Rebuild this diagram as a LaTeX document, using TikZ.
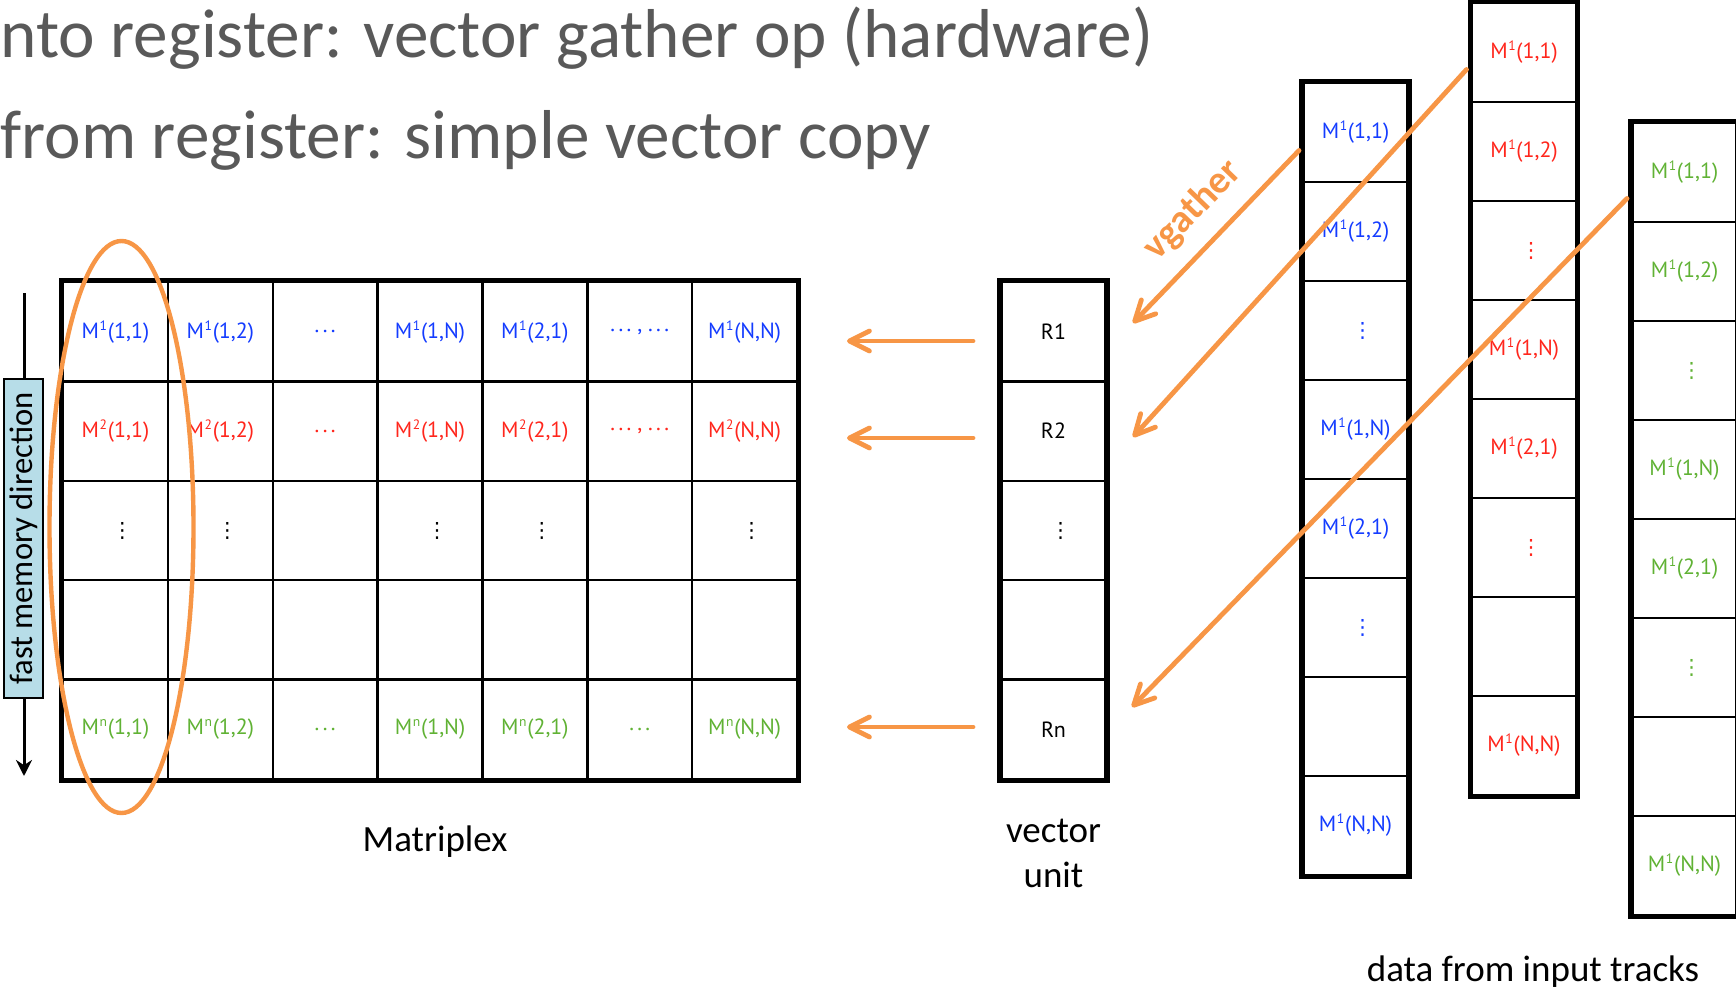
\documentclass[tikz,border=0pt]{standalone}
\usepackage{fontspec}
\setmainfont{Carlito}
\newfontfamily\cellfont{PT Sans}
\newfontfamily\symfont{DejaVu Sans}
\usetikzlibrary{arrows.meta,calc}

\definecolor{accent}{HTML}{F79646}
\definecolor{rowblue}{RGB}{20,60,255}
\definecolor{rowred}{RGB}{255,38,28}
\definecolor{rowgreen}{RGB}{96,178,52}
\definecolor{headgray}{HTML}{595959}
\definecolor{tagblue}{HTML}{B7DDE8}

% element M^k(i,j) of a matrix, with a small raised index
\newcommand{\Mx}[2]{M\kern0.3pt\raisebox{0.72ex}{\fontsize{6.8}{6.8}\selectfont #1}\kern0.4pt(#2)}
% vertical and horizontal ellipses
\newcommand{\vd}{\hspace*{7pt}{\symfont\fontsize{10.5}{10.5}\selectfont ⋮}}
\newcommand{\hd}{.\kern1.7pt.\kern1.7pt.}

\tikzset{
  cell/.style={draw, line width=1.2pt, minimum width=52.43pt, minimum height=49.7pt,
    inner sep=0pt, font=\cellfont\fontsize{11}{13}\selectfont},
  slot/.style={cell, minimum width=52.3pt, minimum height=49.5pt},
  frame/.style={line width=2.6pt},
  flow/.style={accent, line width=2.4pt, line cap=round,
    -{Straight Barb[length=10pt,width=10pt,round]}},
  label/.style={inner sep=0pt, font=\fontsize{18.5}{22.5}\selectfont},
  headline/.style={anchor=base west, inner sep=0pt, text=headgray,
    font=\fontsize{34.6}{34.6}\selectfont}
}

\begin{document}
\begin{tikzpicture}[x=0.5pt,y=-0.5pt]
\useasboundingbox[fill=white] (0,0) rectangle (1736,991);

% headings
\node[headline] (head1) at (0,57) {nto register: vector gather op (hardware)};
\node[headline] (head2) at (0,158) {from register: simple vector copy};

% Matriplex grid: 5 rows x 7 columns
\foreach \c/\t in {1/{\Mx{1}{1,1}},2/{\Mx{1}{1,2}},3/{\hd},4/{\Mx{1}{1,N}},5/{\Mx{1}{2,1}},6/{\hd\ , \hd},7/{\Mx{1}{N,N}}}
  \node[cell, text=rowblue] (m1\c) at ({63+104.86*(\c-0.5)},{282+99.4*0.5}) {\t};
\foreach \c/\t in {1/{\Mx{2}{1,1}},2/{\Mx{2}{1,2}},3/{\hd},4/{\Mx{2}{1,N}},5/{\Mx{2}{2,1}},6/{\hd\ , \hd},7/{\Mx{2}{N,N}}}
  \node[cell, text=rowred] (m2\c) at ({63+104.86*(\c-0.5)},{282+99.4*1.5}) {\t};
\foreach \c/\t in {1/{\vd},2/{\vd},3/{},4/{\vd},5/{\vd},6/{},7/{\vd}}
  \node[cell] (m3\c) at ({63+104.86*(\c-0.5)},{282+99.4*2.5}) {\t};
\foreach \c in {1,...,7}
  \node[cell] (m4\c) at ({63+104.86*(\c-0.5)},{282+99.4*3.5}) {};
\foreach \c/\t in {1/{\Mx{n}{1,1}},2/{\Mx{n}{1,2}},3/{\hd},4/{\Mx{n}{1,N}},5/{\Mx{n}{2,1}},6/{\hd},7/{\Mx{n}{N,N}}}
  \node[cell, text=rowgreen] (m5\c) at ({63+104.86*(\c-0.5)},{282+99.4*4.5}) {\t};
\draw[frame] (m11.north west) rectangle (m57.south east);

% vector unit registers
\foreach \r/\t in {1/R1,2/R2,3/{\vd},4/{},5/Rn}
  \node[slot, minimum height=49.7pt] (v\r) at (1053.5,{282+99.4*(\r-0.5)}) {\t};
\draw[frame] (v1.north west) rectangle (v5.south east);

% input track data in memory
\foreach \r/\t in {1/{\Mx{1}{1,1}},2/{\Mx{1}{1,2}},3/{\vd},4/{\Mx{1}{1,N}},5/{\Mx{1}{2,1}},6/{\vd},7/{},8/{\Mx{1}{N,N}}} {
  \node[slot, text=rowblue] (b\r) at (1355.5,{83+99*(\r-0.5)}) {\t};
  \node[slot, text=rowred] (r\r) at (1524,{3+99*(\r-0.5)}) {\t};
  \node[slot, text=rowgreen] (g\r) at (1684.5,{123+99*(\r-0.5)}) {\t};
}
\draw[frame] (b1.north west) rectangle (b8.south east);
\draw[frame] (r1.north west) rectangle (r8.south east);
\draw[frame] (g1.north west) rectangle (g8.south east);

% labels
\node[label] (mplabel) at (435,842) {Matriplex};
\node[label, align=center] (vulabel) at (1053.5,853) {vector\\unit};
\node[label] (tracklabel) at (1533,972) {data from input tracks};

% fast memory direction marker
\coordinate (fmtop) at (24,293);
\coordinate (fmbot) at (24,776);
\draw[line width=1.5pt, -{Stealth[length=8pt,width=8pt]}] (fmtop) -- (fmbot);
\node[draw, line width=1.2pt, fill=tagblue, rotate=90, minimum width=159.5pt,
  minimum height=19.5pt, inner sep=0pt, font=\fontsize{16.3}{16.3}\selectfont]
  (fmd) at (23.5,538.5) {fast memory direction};

% column selected by one register
\draw[accent, line width=2.2pt] (121.5,527) ellipse [x radius=72, y radius=286];

% copy from registers into the Matriplex
\coordinate (h1s) at (973,341);  \coordinate (h1e) at (847,341);
\coordinate (h2s) at (973,438);  \coordinate (h2e) at (847,438);
\coordinate (h3s) at (973,727);  \coordinate (h3e) at (847,727);
\draw[flow] (h1s) -- (h1e);
\draw[flow] (h2s) -- (h2e);
\draw[flow] (h3s) -- (h3e);

% gather from memory into registers
\coordinate (gt1) at (1133,323);
\coordinate (gt2) at (1133,437);
\coordinate (gt3) at (1132,707);
\draw[flow] ($(b1.west)+(-3,18)$) -- (gt1);
\draw[flow] ($(r1.west)+(-4,17)$) -- (gt2);
\draw[flow] ($(g1.west)+(-4,26)$) -- (gt3);
\node[rotate=46, text=accent, inner sep=0pt, font=\bfseries\fontsize{19.5}{19.5}\selectfont]
  (vg) at (1193,210) {vgather};
\end{tikzpicture}
\end{document}
